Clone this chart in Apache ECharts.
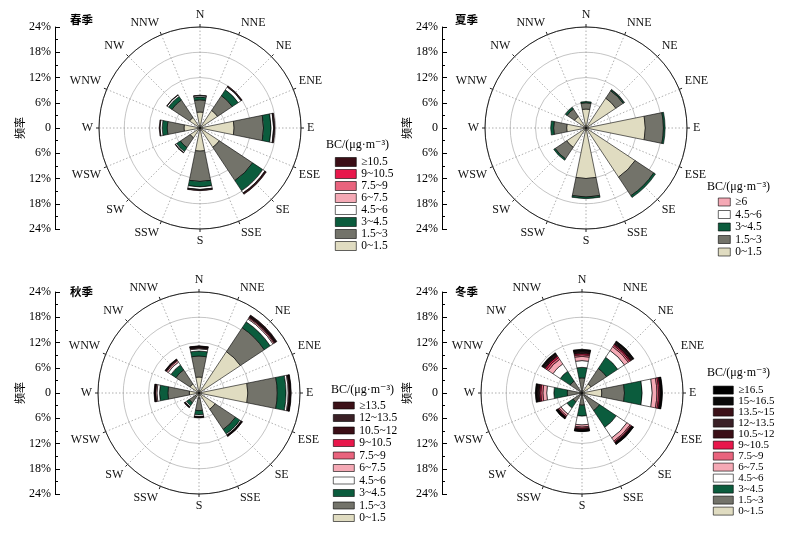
<!DOCTYPE html>
<html><head><meta charset="utf-8">
<script src="https://cdn.jsdelivr.net/npm/echarts@6/dist/echarts.min.js"></script>
<style>html,body{margin:0;padding:0;background:#fff}#c{width:799px;height:542px}</style>
</head><body><div id="c"></div>
<script>
// ---------- data ----------
const dirLabels = ['N','NNE','NE','ENE','E','ESE','SE','SSE','S','SSW','SW','WSW','W','WNW','NW','NNW'];
const barDirs = ['N','NE','E','SE','S','SW','W','NW'];
const radialTicks = [-24,-18,-12,-6,0,6,12,18,24];
const legendTitle = 'BC/(μg·m⁻³)';

const springBins = ['0~1.5','1.5~3','3~4.5','4.5~6','6~7.5','7.5~9','9~10.5','≥10.5'];
const spring_0_15   = [3.8,5.0,8.1,5.5,5.5,2.8,3.8,3.0];
const spring_15_3   = [2.9,4.2,7.0,9.5,7.2,2.8,4.0,5.0];
const spring_3_45   = [0.7,1.7,1.8,2.9,1.3,1.1,1.2,1.0];
const spring_45_6   = [0.3,0.8,0.6,0.6,0.6,0.3,0.5,0.4];
const spring_6_75   = [0,0.1,0.1,0.1,0.1,0,0,0];
const spring_75_9   = [0,0,0,0,0,0,0,0];
const spring_9_105  = [0,0,0,0,0,0,0,0];
const spring_ge105  = [0.1,0.2,0.2,0.3,0.2,0.1,0.2,0.1];

const summerBins = ['0~1.5','1.5~3','3~4.5','4.5~6','≥6'];
const summer_0_15 = [4.5,8.5,14.1,14.0,12.0,5.5,4.6,3.3];
const summer_15_3 = [1.5,2.1,4.3,5.3,4.4,3.3,3.1,2.1];
const summer_3_45 = [0.3,0.3,0.4,0.5,0.4,0.4,0.7,0.5];
const summer_45_6 = [0,0.1,0,0,0,0,0,0];
const summer_ge6  = [0,0,0,0,0,0,0,0];

const autumnBins = ['0~1.5','1.5~3','3~4.5','4.5~6','6~7.5','7.5~9','9~10.5','10.5~12','12~13.5','≥13.5'];
const autumn_0_15    = [3.8,11.8,11.6,4.6,1.2,1.0,2.3,2.6];
const autumn_15_3    = [5.0,6.8,7.0,5.8,3.0,1.8,5.1,4.0];
const autumn_3_45    = [1.2,1.7,2.1,1.3,1.0,0.8,2.0,1.4];
const autumn_45_6    = [0.5,0.8,0.5,0.3,0.4,0.3,0.6,0.8];
const autumn_6_75    = [0.2,0.3,0.2,0.1,0.1,0.1,0.3,0.4];
const autumn_75_9    = [0.1,0.2,0.1,0,0,0,0.1,0.2];
const autumn_9_105   = [0,0.1,0,0,0,0,0,0];
const autumn_105_12  = [0.2,0.2,0.2,0.1,0.1,0.1,0.1,0.1];
const autumn_12_135  = [0.1,0.1,0.1,0.1,0,0,0.1,0.1];
const autumn_ge135   = [0.1,0.2,0.1,0.1,0.1,0.1,0.1,0.1];

const winterBins = ['0~1.5','1.5~3','3~4.5','4.5~6','6~7.5','7.5~9','9~10.5','10.5~12','12~13.5','13.5~15','15~16.5','≥16.5'];
const winter_0_15    = [0.3,2.6,4.7,0.8,0.3,0.3,0.4,0.3];
const winter_15_3    = [3.3,4.4,5.4,4.2,2.6,2.3,3.1,3.1];
const winter_3_45    = [2.5,3.2,4.2,4.8,2.6,1.7,3.2,2.8];
const winter_45_6    = [1.6,1.9,2.4,3.0,2.1,1.7,1.7,2.1];
const winter_6_75    = [1.0,1.1,1.1,0.9,0.5,0.5,0.9,1.3];
const winter_75_9    = [0.4,0.4,0.4,0.3,0.3,0.3,0.5,0.5];
const winter_9_105   = [0.3,0.3,0.3,0.2,0.2,0.1,0.3,0.4];
const winter_105_12  = [0.3,0.2,0.2,0.1,0.2,0.1,0.3,0.3];
const winter_12_135  = [0.2,0.2,0.1,0.1,0.1,0.1,0.2,0.2];
const winter_135_15  = [0.2,0.2,0.1,0.1,0.1,0.1,0.2,0.2];
const winter_15_165  = [0.1,0.1,0.1,0.1,0.1,0.1,0.1,0.1];
const winter_ge165   = [0.2,0.2,0.1,0.1,0.1,0.1,0.2,0.2];

// ---------- style ----------
const binColors = {
  '0~1.5':'#e0dcc1','1.5~3':'#73736a','3~4.5':'#0b5c3d','4.5~6':'#ffffff',
  '6~7.5':'#f5a9b5','7.5~9':'#e9637d','9~10.5':'#e8174b','10.5~12':'#3b0e16',
  '12~13.5':'#3a2026','13.5~15':'#3c1118','15~16.5':'#0a0a0a','≥16.5':'#000000',
  '≥10.5':'#3b0e16','≥13.5':'#3c1118','≥6':'#f5a9b5'
};
const SERIF = '"Liberation Serif","DejaVu Serif",serif';
const CJK = '"Noto Sans CJK SC",sans-serif';
const R = 101;

const panels = [
  {title:'春季', bins:springBins,
   values:[spring_0_15,spring_15_3,spring_3_45,spring_45_6,spring_6_75,spring_75_9,spring_9_105,spring_ge105],
   center:[200,128], axisX:55, titlePos:[70,14],
   legend:{left:335, top:156, w:21, h:9, gap:0, lh:11.5, fs:11.5}, ltPos:[326,139]},
  {title:'夏季', bins:summerBins,
   values:[summer_0_15,summer_15_3,summer_3_45,summer_45_6,summer_ge6],
   center:[586,128], axisX:442, titlePos:[455,14],
   legend:{left:718, top:196, w:12, h:8, gap:0.5, lh:11.5, fs:11.5}, ltPos:[707,181]},
  {title:'秋季', bins:autumnBins,
   values:[autumn_0_15,autumn_15_3,autumn_3_45,autumn_45_6,autumn_6_75,autumn_75_9,autumn_9_105,autumn_105_12,autumn_12_135,autumn_ge135],
   center:[199,393], axisX:55, titlePos:[70,286],
   legend:{left:333, top:399.5, w:21, h:7, gap:0.5, lh:11.5, fs:11.5}, ltPos:[331,384]},
  {title:'冬季', bins:winterBins,
   values:[winter_0_15,winter_15_3,winter_3_45,winter_45_6,winter_6_75,winter_75_9,winter_9_105,winter_105_12,winter_12_135,winter_135_15,winter_15_165,winter_ge165],
   center:[582,393], axisX:442, titlePos:[455,286],
   legend:{left:713, top:384.6, w:20, h:8, gap:0, lh:10.8, fs:11}, ltPos:[707,367]}
];

const option = {animation:false, backgroundColor:'#fff',
  polar:[], angleAxis:[], radiusAxis:[], grid:[], xAxis:[], yAxis:[], series:[], legend:[], graphic:[]};

panels.forEach((p,i)=>{
  const pa = 2*i, pb = 2*i+1;
  option.polar.push({center:p.center, radius:R});
  option.polar.push({center:p.center, radius:R});
  option.angleAxis.push({polarIndex:pa, type:'value', min:0, max:360, interval:22.5, startAngle:90, z:1,
    axisLine:{show:true, lineStyle:{color:'#222', width:1}},
    axisTick:{show:true, length:3, lineStyle:{color:'#222', width:1}},
    axisLabel:{margin:6, fontFamily:SERIF, fontSize:12, color:'#111',
      formatter:v=> dirLabels[Math.round(v/22.5)] || ''},
    splitLine:{show:true, lineStyle:{color:'#9a9a9a', width:0.8, type:[1.5,2]}}});
  option.radiusAxis.push({polarIndex:pa, type:'value', min:0, max:24, interval:6, z:1,
    axisLine:{show:false}, axisTick:{show:false}, axisLabel:{show:false},
    splitLine:{show:true, lineStyle:{color:'#b5b5b5', width:0.8}}});
  option.angleAxis.push({polarIndex:pb, type:'category', data:barDirs, boundaryGap:true, startAngle:112.5,
    axisLine:{show:false}, axisTick:{show:false}, axisLabel:{show:false}, splitLine:{show:false}});
  option.radiusAxis.push({polarIndex:pb, type:'value', min:0, max:24,
    axisLine:{show:false}, axisTick:{show:false}, axisLabel:{show:false}, splitLine:{show:false}});

  p.bins.forEach((b,k)=>{
    option.series.push({type:'bar', coordinateSystem:'polar', polarIndex:pb, name:b, stack:'s'+i,
      barWidth:'51%', z:3,
      data:p.values[k].map(v=>v===0?null:v),
      itemStyle:{color:binColors[b], borderColor:'#000', borderWidth:0.6},
      emphasis:{disabled:true}, silent:true});
  });

  option.grid.push({left:p.axisX, top:p.center[1]-R, width:10, height:2*R});
  option.xAxis.push({gridIndex:i, type:'value', min:0, max:1, show:false});
  option.yAxis.push({gridIndex:i, type:'value', min:radialTicks[0], max:radialTicks[radialTicks.length-1], interval:6,
    axisLine:{show:true, onZero:false, lineStyle:{color:'#000', width:1}},
    axisTick:{show:true, inside:true, length:5, lineStyle:{color:'#000'}},
    minorTick:{show:true, splitNumber:2, length:3, lineStyle:{color:'#000'}},
    splitLine:{show:false},
    axisLabel:{margin:4, fontFamily:SERIF, fontSize:12, color:'#000',
      formatter:v=> v===0 ? '0' : Math.abs(v)+'%'},
    name:'频率', nameLocation:'middle', nameGap:28, nameRotate:90,
    nameTextStyle:{fontFamily:CJK, fontSize:11, color:'#000'}});

  const L = p.legend;
  option.legend.push({orient:'vertical', left:L.left, top:L.top, padding:0, itemWidth:L.w, itemHeight:L.h,
    itemGap:L.gap, icon:'rect', selectedMode:false, data:[...p.bins].reverse(),
    itemStyle:{borderColor:'#000', borderWidth:0.6},
    textStyle:{fontFamily:SERIF, fontSize:L.fs, lineHeight:L.lh, color:'#000'}});

  option.graphic.push({type:'text', left:p.titlePos[0], top:p.titlePos[1],
    style:{text:p.title, font:'bold 11.5px '+CJK, fill:'#000'}});
  option.graphic.push({type:'text', left:p.ltPos[0], top:p.ltPos[1],
    style:{text:legendTitle, font:'12px '+SERIF, fill:'#000'}});
});

const chart = echarts.init(document.getElementById('c'), null, {renderer:'canvas'});
chart.setOption(option);
</script></body></html>
